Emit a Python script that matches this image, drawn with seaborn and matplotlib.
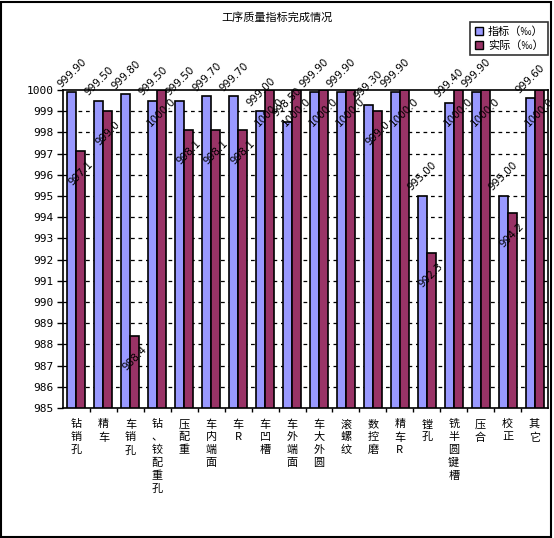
import matplotlib
matplotlib.use("Agg")
import matplotlib.pyplot as plt
import seaborn as sns
import pandas as pd
from matplotlib.patches import Rectangle, Patch
from matplotlib.ticker import MultipleLocator, FixedLocator

categories = ["钻销孔", "精车", "车销孔", "钻、铰配重孔", "压配重", "车内端面", "车R", "车凹槽",
              "车外端面", "车大外圆", "滚螺纹", "数控磨", "精车R", "镗孔", "铣半圆键槽", "压合",
              "校正", "其它"]
target = [999.90, 999.50, 999.80, 999.50, 999.50, 999.70, 999.70, 999.00, 998.50,
          999.90, 999.90, 999.30, 999.90, 995.00, 999.40, 999.90, 995.00, 999.60]
actual = [997.1, 999.0, 988.4, 1000.0, 998.1, 998.1, 998.1, 1000.0, 1000.0,
          1000.0, 1000.0, 999.0, 1000.0, 992.3, 1000.0, 1000.0, 994.2, 1000.0]
series_names = ["指标（‰）", "实际（‰）"]
title = "工序质量指标完成情况"
colors = ["#9999FF", "#993366"]

sns.set_style("white")
plt.rcParams["font.family"] = ["Noto Sans CJK SC", "DejaVu Sans"]
for k in ["text.color", "axes.labelcolor", "xtick.color", "ytick.color"]:
    plt.rcParams[k] = "black"

df = pd.DataFrame({
    "cat": categories * 2,
    "val": target + actual,
    "series": [series_names[0]] * len(categories) + [series_names[1]] * len(categories),
})

W, H = 554, 538
fig = plt.figure(figsize=(W / 100, H / 100), dpi=100)
ax = fig.add_axes([63 / W, 1 - 408 / H, (548 - 63) / W, (408 - 90) / H])

sns.barplot(data=df, x="cat", y="val", hue="series", palette=colors, order=categories,
            hue_order=series_names, width=0.667, gap=0, edgecolor="black", linewidth=1.2,
            saturation=1, ax=ax, legend=False, errorbar=None)

ax.set_ylim(985, 1000)
ax.set_xlim(-0.5, len(categories) - 0.5)
ax.yaxis.set_major_locator(MultipleLocator(1))
ax.set_yticklabels([str(int(t)) for t in ax.get_yticks()], family="DejaVu Sans Mono", fontsize=8)
ax.tick_params(axis="y", direction="out", length=4, width=1, color="black", pad=3, left=True)
for yv in range(986, 1000):
    ax.axhline(yv, color="black", linewidth=0.9, linestyle=(0, (3, 3)), zorder=0.5)

ax.set_xticks(range(len(categories)))
ax.set_xticklabels(["\n".join(c) for c in categories], fontsize=8, linespacing=1.35, va="top")
ax.tick_params(axis="x", which="major", length=0, pad=8)
ax.xaxis.set_minor_locator(FixedLocator([i + 0.5 for i in range(len(categories) - 1)]))
ax.tick_params(axis="x", which="minor", direction="out", length=3, width=1, color="black", bottom=True)
ax.set_xlabel("")
ax.set_ylabel("")
for s in ax.spines.values():
    s.set_visible(True)
    s.set_color("black")
    s.set_linewidth(1.2)

# value labels
for ci, cont in enumerate(ax.containers):
    for bar in cont:
        x = bar.get_x() + bar.get_width() / 2
        v = bar.get_height()
        if ci == 0:
            txt = f"{v:.2f}"
            off = 14
        else:
            txt = f"{v:.1f}"
            off = -16
        ax.annotate(txt, (x, min(v, 1000)), xytext=(0, off), textcoords="offset points",
                    ha="center", va="center", rotation=45, fontsize=7.5,
                    family="DejaVu Sans", annotation_clip=False, clip_on=False, zorder=5)

handles = [Patch(facecolor=c, edgecolor="black", linewidth=1) for c in colors]
leg = fig.legend(handles, series_names, loc="upper right", bbox_to_anchor=(548 / W, 1 - 22 / H),
                 fontsize=8, frameon=True, fancybox=False, edgecolor="black",
                 handlelength=0.8, handleheight=0.8, handletextpad=0.4, borderpad=0.4,
                 labelspacing=0.3, borderaxespad=0)
leg.get_frame().set_linewidth(1.2)

fig.text(0.5, 1 - 17 / H, title, ha="center", va="center", fontsize=8)

fig.patches.append(Rectangle((1 / W, 1 / H), (W - 4) / W, (H - 3) / H, transform=fig.transFigure,
                             fill=False, edgecolor="black", linewidth=1.5))

fig.savefig("out.png", dpi=100, facecolor="white")
